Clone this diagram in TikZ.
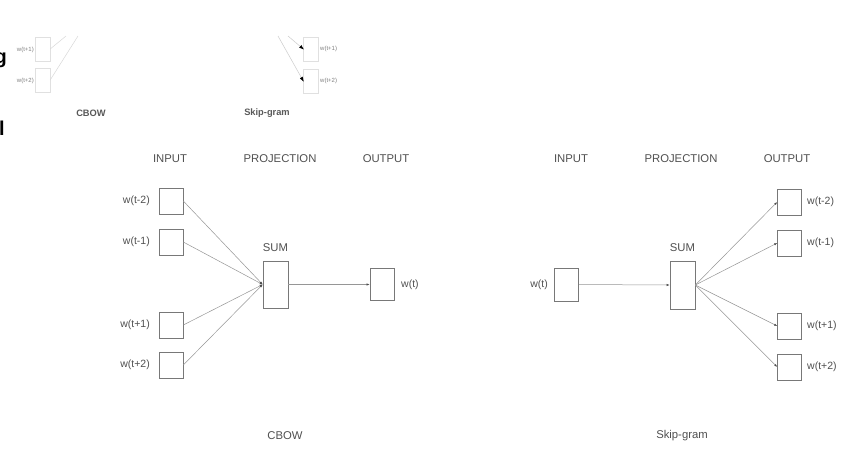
\documentclass[tikz,border=0pt]{standalone}
\usepackage{fontspec}
\setmainfont{Liberation Sans}
\usetikzlibrary{arrows.meta}
\definecolor{w2vline}{RGB}{150,150,150}
\definecolor{w2vtext}{RGB}{80,80,80}
\definecolor{w2vbox}{RGB}{120,120,120}
\tikzset{
  wordbox/.style={draw=w2vbox, line width=0.6pt, minimum width=24pt, minimum height=26pt, inner sep=0pt},
  sumbox/.style={draw=w2vbox, line width=0.6pt, minimum width=25pt, minimum height=47pt, inner sep=0pt},
  lbl/.style={text=w2vtext, font=\fontsize{10.5}{12}\selectfont, inner sep=0pt},
  head/.style={text=w2vtext, font=\fontsize{11.3}{13}\selectfont, inner sep=0pt},
  conn/.style={draw=w2vline, line width=0.5pt, -{Latex[length=3pt,width=2.2pt,black!70]}},
  tiny/.style={draw=black!12, line width=0.4pt, minimum width=15pt, minimum height=24pt, inner sep=0pt},
  tinylbl/.style={text=black!50, font=\fontsize{6}{7}\selectfont, inner sep=0pt},
  tinytitle/.style={text=black!65, font=\bfseries\fontsize{9.3}{10}\selectfont, inner sep=0pt}
}
\begin{document}
\begin{tikzpicture}[x=1pt, y=-1pt]
    \useasboundingbox (0,0) rectangle (850,475);
    \clip (0,0) rectangle (850,475);
    \fill[white] (0,0) rectangle (850,475);

    % cut-off strip at the top
    \node[font=\bfseries\fontsize{20}{22}\selectfont, inner sep=0pt, anchor=east] (edgeg) at (7,60) {g};
    \node[font=\bfseries\fontsize{20}{22}\selectfont, inner sep=0pt, anchor=east] (edgel) at (5,128) {l};
    \node[tiny] (sa) at (42.5,49) {};
    \node[tiny] (sb) at (42.5,80) {};
    \node[tinylbl, anchor=east] (lsa) at (34,50) {w(t+1)};
    \node[tinylbl, anchor=east] (lsb) at (34,81) {w(t+2)};
    \coordinate (ta) at (66,36);
    \coordinate (tb) at (78,36);
    \draw[black!15, line width=0.5pt] (ta) -- (sa.east);
    \draw[black!15, line width=0.5pt] (tb) -- (sb.east);
    \node[tinytitle] (tcbow) at (91,113) {CBOW};
    \node[tiny] (sc) at (311,49) {};
    \node[tiny] (sd) at (311,81) {};
    \node[tinylbl, anchor=west] (lsc) at (320,49) {w(t+1)};
    \node[tinylbl, anchor=west] (lsd) at (320,81) {w(t+2)};
    \coordinate (tc) at (288,36);
    \coordinate (td) at (278,36);
    \draw[black!20, line width=0.5pt, -{Latex[length=5pt,width=3.5pt,black]}, shorten >=-1pt] (tc) -- (sc.west);
    \draw[black!20, line width=0.5pt, -{Latex[length=5pt,width=3.5pt,black]}, shorten >=-1pt] (td) -- (sd.west);
    \node[tinytitle] (tskip) at (267,113) {Skip-gram};

    % CBOW
    \node[head] (cin) at (170,159) {INPUT};
    \node[head] (cproj) at (280,159) {PROJECTION};
    \node[head] (cout) at (386,159) {OUTPUT};
    \node[wordbox] (c1) at (171,201) {};
    \node[wordbox] (c2) at (171,242) {};
    \node[wordbox] (c3) at (171,325) {};
    \node[wordbox] (c4) at (171,365) {};
    \node[lbl, anchor=east] (lc1) at (150,201) {w(t-2)};
    \node[lbl, anchor=east] (lc2) at (150,242) {w(t-1)};
    \node[lbl, anchor=east] (lc3) at (150,325) {w(t+1)};
    \node[lbl, anchor=east] (lc4) at (150,365) {w(t+2)};
    \node[sumbox] (csum) at (275.5,284.5) {};
    \node[head] (lcsum) at (275.5,248) {SUM};
    \node[wordbox, minimum height=32pt] (cw) at (382,284.5) {};
    \node[lbl, anchor=west] (lcw) at (401,284.5) {w(t)};
    \foreach \i in {c1,c2,c3,c4}
        \draw[conn] (\i.east) -- (csum.west);
    \draw[conn] (csum.east) -- (cw.west);
    \node[head] (ctitle) at (285,436) {CBOW};

    % Skip-gram
    \node[head] (sin) at (571,159) {INPUT};
    \node[head] (sproj) at (681,159) {PROJECTION};
    \node[head] (sout) at (787,159) {OUTPUT};
    \node[wordbox, minimum height=33pt] (sw) at (566.5,284.5) {};
    \node[lbl, anchor=east] (lsw) at (548,284.5) {w(t)};
    \node[sumbox, minimum height=48pt] (ssum) at (682.5,285) {};
    \node[head] (lssum) at (682.5,248) {SUM};
    \node[wordbox] (s1) at (789.5,202) {};
    \node[wordbox] (s2) at (789.5,243) {};
    \node[wordbox] (s3) at (789.5,326) {};
    \node[wordbox] (s4) at (789.5,367) {};
    \node[lbl, anchor=west] (ls1) at (807,202) {w(t-2)};
    \node[lbl, anchor=west] (ls2) at (807,243) {w(t-1)};
    \node[lbl, anchor=west] (ls3) at (807,326) {w(t+1)};
    \node[lbl, anchor=west] (ls4) at (807,367) {w(t+2)};
    \draw[conn] (sw.east) -- (ssum.west);
    \foreach \i in {s1,s2,s3,s4}
        \draw[conn] (ssum.east) -- (\i.west);
    \node[head] (stitle) at (682,436) {Skip-gram};
\end{tikzpicture}
\end{document}
